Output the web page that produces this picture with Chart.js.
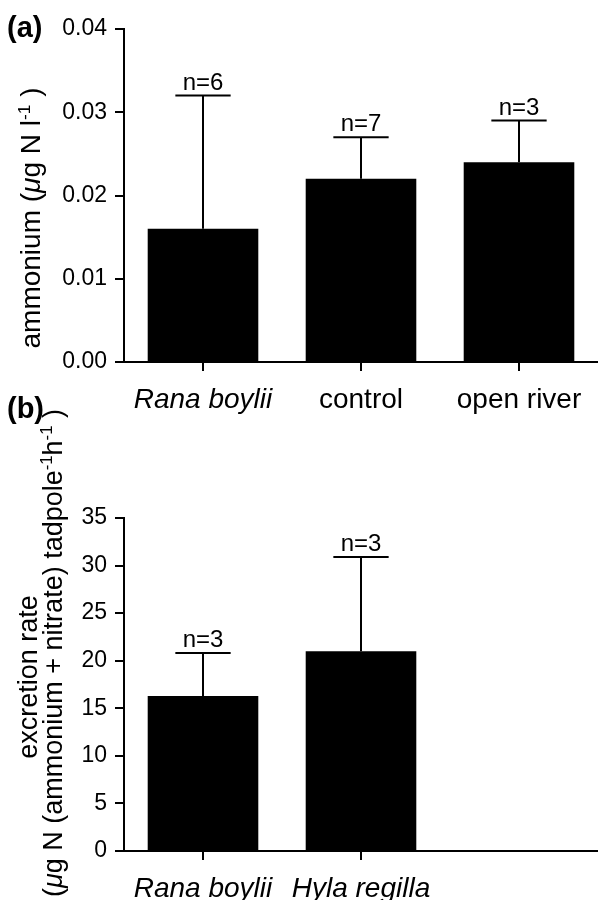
<!DOCTYPE html>
<html>
<head>
<meta charset="utf-8">
<script src="https://cdn.jsdelivr.net/npm/chart.js@4.4.1/dist/chart.umd.min.js"></script>
<style>
html,body{margin:0;padding:0;background:#fff;}
#wrap{position:relative;width:598px;height:900px;overflow:hidden;background:#fff;}
.box{position:absolute;left:0;width:598px;}
</style>
</head>
<body>
<div id="wrap">
  <div class="box" style="top:0;height:415px;"><canvas id="c1"></canvas></div>
  <div class="box" style="top:385px;height:515px;"><canvas id="c2"></canvas></div>
</div>
<script>
// ---- data: panel (a) ----
const catsA = ['Rana boylii', 'control', 'open river'];
const italicA = [true, false, false];
const meanA = [0.016, 0.022, 0.024];
const seA = [0.016, 0.005, 0.005];
const nA = ['n=6', 'n=7', 'n=3'];
const ticksA = [0, 0.01, 0.02, 0.03, 0.04];

// ---- data: panel (b) ----
const catsB = ['Rana boylii', 'Hyla regilla', ''];
const italicB = [true, true, false];
const meanB = [16.3, 21.0, null];
const seB = [4.5, 9.9, null];
const nB = ['n=3', 'n=3', ''];
const ticksB = [0, 5, 10, 15, 20, 25, 30, 35];

const FAM = '"Liberation Sans", Arial, Helvetica, sans-serif';
Chart.defaults.color = '#000';
Chart.defaults.font.family = FAM;

function drawRuns(ctx, runs, size, cx, cy) {
  let total = 0;
  const items = runs.map(r => {
    const s = r.sup ? size * 0.62 : size;
    const font = (r.italic ? 'italic ' : '') + s + 'px ' + FAM;
    ctx.font = font;
    const w = ctx.measureText(r.t).width;
    total += w;
    return {t: r.t, font, w, dy: r.sup ? -size * 0.36 : 0};
  });
  ctx.save();
  ctx.fillStyle = '#000';
  ctx.translate(cx, cy);
  ctx.rotate(-Math.PI / 2);
  ctx.textAlign = 'left';
  ctx.textBaseline = 'alphabetic';
  let x = -total / 2;
  items.forEach(it => { ctx.font = it.font; ctx.fillText(it.t, x, it.dy); x += it.w; });
  ctx.restore();
}

const errPlugin = {
  id: 'errbars',
  afterDatasetsDraw(chart, args, opts) {
    const ctx = chart.ctx, x = chart.scales.x, y = chart.scales.y;
    const meta = chart.getDatasetMeta(0);
    opts.means.forEach((m, i) => {
      if (m == null) return;
      const px = x.getPixelForValue(i);
      const yTop = y.getPixelForValue(m);
      const yErr = y.getPixelForValue(m + opts.se[i]);
      const half = meta.data[i].width / 4;
      ctx.save();
      ctx.strokeStyle = '#000';
      ctx.lineWidth = 2;
      ctx.beginPath();
      ctx.moveTo(px, yTop); ctx.lineTo(px, yErr);
      ctx.moveTo(px - half, yErr); ctx.lineTo(px + half, yErr);
      ctx.stroke();
      ctx.fillStyle = '#000';
      ctx.font = '24px ' + FAM;
      ctx.textAlign = 'center';
      ctx.textBaseline = 'alphabetic';
      ctx.fillText(opts.n[i], px, yErr - 6);
      ctx.restore();
    });
  }
};

const labelPlugin = {
  id: 'labels',
  afterDraw(chart, args, opts) {
    const ctx = chart.ctx;
    ctx.save();
    ctx.fillStyle = '#000';
    ctx.font = 'bold 29px ' + FAM;
    ctx.textAlign = 'left';
    ctx.textBaseline = 'alphabetic';
    ctx.fillText(opts.panel, 7, opts.panelY);
    ctx.restore();
    opts.titles.forEach(t => drawRuns(ctx, t.runs, t.size, t.x, t.y));
  }
};

function makeChart(id, cats, italics, means, se, ns, ticks, fmt, ymax, padTop, xHeight, panel, panelY, titles) {
  return new Chart(document.getElementById(id), {
    type: 'bar',
    data: {
      labels: cats,
      datasets: [{
        data: means,
        backgroundColor: '#000',
        borderWidth: 0,
        barPercentage: 0.70,
        categoryPercentage: 1.0
      }]
    },
    options: {
      responsive: true,
      maintainAspectRatio: false,
      animation: false,
      layout: {padding: {top: padTop, right: 0, left: 0, bottom: 0}},
      plugins: {
        legend: {display: false},
        tooltip: {enabled: false},
        errbars: {means: means, se: se, n: ns},
        labels: {panel: panel, panelY: panelY, titles: titles}
      },
      scales: {
        x: {
          grid: {
            display: true, drawOnChartArea: false, drawTicks: true, tickLength: 9, lineWidth: 2, offset: false,
            color: ctx => (cats[ctx.index] === '' ? 'rgba(0,0,0,0)' : '#000')
          },
          border: {display: true, color: '#000', width: 2},
          ticks: {
            color: '#000',
            padding: 12,
            maxRotation: 0,
            autoSkip: false,
            font: ctx => ({family: FAM, size: 28, style: italics[ctx.index] ? 'italic' : 'normal'})
          },
          afterFit: s => { s.height = xHeight; }
        },
        y: {
          min: 0,
          max: ymax,
          grid: {display: true, drawOnChartArea: false, drawTicks: true, tickLength: 9, color: '#000', lineWidth: 2},
          border: {display: true, color: '#000', width: 2},
          afterBuildTicks: s => { s.ticks = ticks.map(v => ({value: v})); },
          ticks: {
            color: '#000',
            padding: 8,
            font: {family: FAM, size: 23},
            callback: v => fmt(v)
          },
          afterFit: s => { s.width = 124; }
        }
      }
    },
    plugins: [errPlugin, labelPlugin]
  });
}

makeChart('c1', catsA, italicA, meanA, seA, nA, ticksA, v => Number(v).toFixed(2), 0.04, 29, 53,
  '(a)', 37,
  [{size: 28, x: 40, y: 218, runs: [
    {t: 'ammonium ('}, {t: 'μ', italic: true}, {t: 'g N l'}, {t: '-1', sup: true}, {t: ' )'}
  ]}]);

makeChart('c2', catsB, italicB, meanB, seB, nB, ticksB, v => String(v), 35, 133, 49,
  '(b)', 33,
  [
    {size: 27, x: 37, y: 292, runs: [{t: 'excretion rate'}]},
    {size: 27, x: 62, y: 268, runs: [
      {t: '('}, {t: 'μ', italic: true}, {t: 'g N (ammonium + nitrate) tadpole'}, {t: '-1', sup: true},
      {t: 'h'}, {t: '-1', sup: true}, {t: ' )'}
    ]}
  ]);
</script>
</body>
</html>
